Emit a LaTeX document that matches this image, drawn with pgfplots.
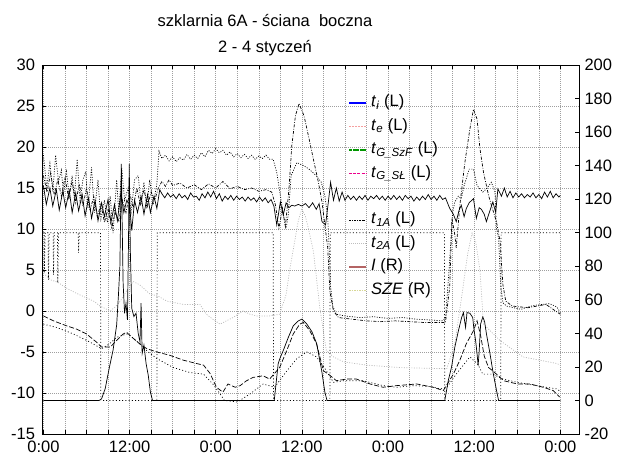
\documentclass[border=0pt]{standalone}
\usepackage{fontspec}
\setmainfont{Liberation Sans}
\usepackage{pgfplots}
\pgfplotsset{compat=1.18}
\definecolor{legpink}{RGB}{245,160,160}
\definecolor{legGr}{RGB}{0,150,0}
\definecolor{leggrey}{RGB}{190,190,190}
\definecolor{legbrown}{RGB}{180,100,100}
\definecolor{legkhaki}{RGB}{215,215,150}
\begin{document}
\begin{tikzpicture}
\pgfplotsset{
  common/.style={
    at={(0pt,0pt)}, anchor=south west,
    scale only axis, width=537pt, height=369pt,
    xmin=-0.2, xmax=74.6,
    /pgf/number format/assume math mode=true,
    ticklabel style={font=\fontsize{16.5}{18}\selectfont},
    tick align=inside, major tick length=4pt, minor tick length=4pt,
    tick style={black, line width=0.5pt},
    axis line style={line width=0.8pt},
  },
  mygrid/.style={gray!75, dash pattern=on 0.8pt off 1.2pt, line width=0.5pt},
}
\begin{axis}[common,
  ymin=-15, ymax=30, ytick={-15,-10,...,30},
  xtick={0,12,...,72}, xticklabels={0:00,12:00,0:00,12:00,0:00,12:00,0:00},
  minor xtick={3,6,...,72},
  xtick pos=both, xticklabel pos=left, ytick pos=left,
  grid=both, major grid style={mygrid}, minor grid style={mygrid},
  xticklabel style={yshift=-3pt},
  yticklabel style={xshift=-3.5pt},
]
% t_i
\addplot[black, line width=0.7pt] coordinates {
(0,15.3)(0.4,13.0)(0.9,15.0)(1.3,12.8)(1.8,14.8)(2.2,12.3)(2.7,14.6)(3.1,12.6)(3.6,14.7)(4.0,12.0)(4.5,14.4)(4.9,12.2)(5.4,14.2)(5.8,11.6)(6.3,13.8)(6.7,11.3)(7.2,13.5)(7.6,11.0)(8.1,13.2)(8.5,11.5)(9.0,13.6)(9.4,10.8)(9.9,13.0)(10.3,11.0)(10.8,14.5)(11.2,12.0)(11.6,13.5)(12.0,13.0)(12.3,9.8)(12.7,13.5)(13.1,12.0)(13.6,14.0)(14.0,11.8)(14.5,14.2)(14.9,12.0)(15.4,14.0)(15.8,12.5)(16.2,14.8)
(16.5,14.3)(16.9,13.8)(17.3,14.4)(17.7,13.9)(18.1,14.2)(18.5,13.7)(18.9,14.3)(19.3,13.8)(19.7,14.1)(20.1,13.6)(20.5,14.4)(20.9,13.9)(21.3,14.0)(21.7,13.5)(22.1,14.3)(22.5,13.8)(22.9,14.5)(23.3,13.9)(23.7,14.6)(24.1,13.7)(24.5,14.3)(24.9,13.4)(25.3,14.0)(25.7,13.6)(26.1,14.1)(26.5,13.5)(26.9,14.0)(27.3,13.6)(27.7,13.9)(28.1,13.4)(28.5,13.9)(28.9,13.5)(29.3,13.8)(29.7,13.3)(30.1,13.9)(30.5,13.4)(30.9,13.8)(31.3,13.2)(31.7,13.6)
(32.1,12.8)(32.5,10.5)(33.0,13.3)(33.4,11.7)(33.8,13.2)(34.2,12.6)(34.6,12.9)(35.0,12.8)(35.5,13.0)(36.0,12.8)(36.5,13.1)(37.0,12.6)(37.5,13.2)(38.0,12.4)(38.4,13.1)(38.8,10.9)(39.3,10.5)(39.7,13.4)(40.0,15.7)(40.4,13.5)(40.8,15.0)(41.2,13.4)(41.6,14.5)
(42.0,13.5)(42.4,14.1)(42.8,13.6)(43.2,14.0)(43.6,13.5)(44.0,14.0)(44.4,13.6)(44.8,14.1)(45.2,13.5)(45.6,14.0)(46.0,13.7)(46.4,14.1)(46.8,13.6)(47.2,14.0)(47.6,13.5)(48.0,14.0)(48.4,13.6)(48.8,14.1)(49.2,13.6)(49.6,14.0)(50.0,13.5)(50.4,14.1)(50.8,13.7)(51.2,14.0)(51.6,13.4)(52.0,13.9)(52.4,13.5)(52.8,14.0)(53.2,13.6)(53.6,14.2)(54.0,13.6)(54.4,14.0)(54.8,13.5)(55.2,14.1)(55.6,13.6)
(56.0,13.8)(56.6,12.5)(57.1,11.8)(57.5,10.9)(57.9,12.3)(58.2,12.9)(58.6,11.5)(58.9,12.5)(59.3,13.2)(59.9,13.7)(60.3,11.3)(60.7,12.6)(61.0,12.4)(61.4,11.8)(61.7,10.9)(62.1,12.0)(62.6,13.3)(63.0,12.0)(63.3,14.9)(63.8,14.0)(64.2,15.0)(64.6,13.9)
(65.0,14.6)(65.4,13.8)(65.8,14.4)(66.2,13.9)(66.6,14.3)(67.0,13.8)(67.4,14.2)(67.8,13.9)(68.2,14.4)(68.6,13.8)(69.0,14.2)(69.4,13.7)(69.8,14.5)(70.2,13.9)(70.6,14.6)(71.0,13.8)(71.4,14.3)(71.8,13.9)(72.0,14.1)
};
% t_G_SzF (upper dotted)
\addplot[black, line width=0.7pt, dash pattern=on 1pt off 1.5pt] coordinates {
(0,19.0)(0.45,15.0)(0.9,18.0)(1.3,14.6)(1.7,19.0)(2.1,15.8)(2.5,17.2)(2.8,14.2)(3.2,17.0)(3.6,14.0)(4.0,16.5)(4.3,13.8)(4.7,18.5)(5.1,13.5)(5.5,16.0)(5.9,17.0)(6.2,12.5)(6.7,17.5)(7.1,12.0)(7.6,16.0)(8.0,11.2)(8.5,13.5)(8.9,10.8)(9.3,14.0)(9.7,9.5)(10.2,16.0)(10.5,12.0)(10.9,17.5)(11.3,13.5)(11.8,15.0)(12.2,12.0)(12.7,16.0)(13.2,16.5)(13.6,13.0)(14.0,15.7)(14.4,12.5)(14.8,16.0)(15.3,13.0)(15.8,15.5)(16.1,19.5)
(16.5,18.6)(17.0,19.0)(17.5,18.3)(18.0,18.8)(18.5,18.2)(19.0,18.7)(19.5,18.4)(20.0,19.1)(20.5,18.5)(21.0,19.0)(21.5,18.6)(22.0,19.3)(22.5,18.8)(23.0,19.6)(23.5,19.2)(24.0,19.8)(24.5,19.3)(25.0,19.6)(25.5,19.0)(26.0,19.4)(26.5,18.8)(27.0,19.2)(27.5,18.7)(28.0,19.1)(28.5,18.6)(29.0,19.0)(29.5,18.5)(30.0,18.9)(30.5,18.6)(31.0,19.0)(31.5,18.5)(32.0,18.5)
(32.5,16.9)(33.0,14.1)(33.5,11.3)(33.8,10.1)(34.1,11.7)(34.5,16.5)(35.3,18.1)(36.3,17.7)(37.0,17.3)(38.0,16.5)(38.7,15.7)(39.2,14.1)(39.6,11.3)(39.8,7.7)(40.0,3.0)(40.3,0.6)(40.8,-0.4)(42,-0.6)(44,-0.8)(46,-0.7)(48,-0.9)(50,-0.8)(52,-1.0)(54,-1.1)(55.5,-1.2)(56.0,-0.9)
(56.5,5.0)(57.0,12.0)(57.3,13.3)(57.8,14.0)(58.2,13.7)(58.6,15.3)(59.3,17.3)(59.9,17.3)(60.4,15.3)(60.8,14.9)(61.2,14.5)(61.7,14.9)(62.4,15.7)(62.9,14.5)(63.1,10.1)(63.4,8.9)(63.7,3.0)(64.0,1.0)(64.5,0.6)(65.5,0.4)(66.5,0.2)(67.5,0.5)(68.5,0.7)(69.5,0.8)(70.5,0.9)(71.5,0.5)(72,-0.2)
};
% t_1A (dash-dot)
\addplot[black, line width=0.7pt, dash pattern=on 3pt off 1.5pt on 0.8pt off 1.5pt] coordinates {
(0,16.5)(0.5,14.5)(1.0,16.8)(1.5,14.2)(2.0,16.0)(2.5,14.0)(3.0,16.3)(3.5,13.8)(4.0,15.8)(4.5,13.2)(5.0,15.5)(5.5,12.8)(6.0,15.0)(6.5,12.2)(7.0,14.0)(7.5,11.5)(8.0,13.0)(8.5,10.8)(9.0,12.5)(9.5,10.2)(10.0,12.0)(10.5,11.0)(11.0,13.5)(11.5,12.0)(12.0,14.5)(12.5,12.5)(13.0,15.0)(13.5,13.0)(14.0,14.8)(14.5,12.8)(15.0,14.5)(15.5,13.5)(16.0,15.0)
(16.5,15.8)(17,15.2)(17.5,16.0)(18,15.3)(19,15.6)(20,15.0)(21,15.4)(22,14.8)(23,15.5)(24,15.0)(25,15.8)(26,14.9)(27,15.2)(28,14.8)(29,15.0)(30,14.6)(31,14.8)(31.8,14.5)
(32.3,13.0)(32.8,10.1)(33.3,12.5)(33.7,10.3)(34.2,14.9)(34.6,20.2)(35.1,23.8)(35.6,25.3)(36.3,23.8)(37.0,21.0)(37.7,18.1)(38.3,15.7)(38.8,13.3)(39.2,10.5)(39.6,7.7)(39.9,2.4)(40.4,0.0)(41.1,-0.8)(43,-1.0)(45,-1.2)(47,-1.3)(49,-1.2)(51,-1.3)(53,-1.4)(55,-1.4)(56.0,-1.4)
(56.6,3.0)(56.9,11.3)(57.3,9.3)(57.5,7.7)(58.0,12.9)(58.7,18.1)(59.4,22.2)(59.9,24.6)(60.4,23.4)(60.8,19.8)(61.3,16.9)(62.0,14.1)(62.4,12.9)(63.1,10.9)(63.6,8.5)(64.0,3.2)(64.4,1.2)(65.3,0.6)(67.5,0.4)(70,0.8)(72,-0.4)
};
% t_2A (grey dotted)
\addplot[gray!55, line width=0.7pt, dash pattern=on 1pt off 1.5pt] coordinates {
(0,4.6)(1.0,3.8)(2.0,3.5)(3.2,2.8)(4.5,2.2)(6.0,1.6)(7.0,1.2)(7.9,0.6)(9.3,0.0)(10.0,0.5)(10.7,1.2)(11.6,2.5)(12.5,3.6)(13.4,3.2)(14.8,2.1)(16.0,1.8)(17.2,1.2)(19.5,0.8)(21.8,0.8)(22.7,-0.4)(23.6,-1.0)(24.6,-1.6)(25.5,-1.2)(26.4,-0.8)(27.8,0.0)(28.8,-0.4)(29.7,-0.6)(31.5,-0.6)(32.9,-0.4)
(33.8,2.0)(34.3,5.0)(34.8,7.5)(35.5,11.0)(36.0,12.5)(36.5,11.5)(36.9,10.1)(37.6,7.3)(38.5,0.4)(39.4,-4.8)(40.4,-5.6)(41.8,-6.2)(45.0,-6.6)(49.7,-6.9)(54.3,-7.0)(56.2,-7.0)
(57.3,-4.0)(58.3,2.0)(59.1,7.0)(59.7,9.5)(60.2,8.5)(60.8,5.0)(61.3,-1.6)(63.6,-3.6)(66.8,-5.6)(71.5,-6.4)(72,-6.6)
};
% t_G_SL (long dashed)
\addplot[black, line width=0.7pt, dash pattern=on 5pt off 2pt] coordinates {
(0,-0.6)(1.4,-1.2)(3.2,-1.8)(4.6,-2.2)(6.0,-2.8)(7.4,-3.8)(8.1,-4.4)(9.3,-4.4)(10.2,-3.6)(11.1,-2.8)(11.6,-2.6)(12.2,-3.1)(13.4,-4.0)(14.4,-4.6)(15.8,-5.0)(17.6,-5.4)(19.5,-6.0)(21.3,-6.4)(22.3,-6.6)(23.2,-7.6)(24.1,-9.3)(25.0,-9.9)(25.7,-8.9)(26.7,-9.3)(27.4,-9.1)(28.3,-8.5)(29.2,-8.1)(30.6,-7.9)(31.5,-8.3)(32.2,-7.6)
(32.9,-6.9)(33.9,-4.8)(34.8,-2.8)(35.7,-1.6)(36.2,-1.4)(37.1,-2.4)(38.05,-4.0)(39.0,-7.3)(39.7,-7.7)(40.8,-8.5)(42.2,-8.3)(43.6,-8.3)(45.5,-8.9)(47.3,-9.3)(49.2,-9.1)(52.0,-8.9)(54.3,-9.3)(55.7,-9.7)
(57.1,-7.7)(58.0,-6.0)(58.9,-4.0)(59.9,-2.4)(60.4,-1.2)(60.9,-3.0)(61.4,-5.5)(62.0,-6.9)(62.6,-7.3)(64.1,-8.5)(66.0,-8.9)(67.8,-8.9)(69.6,-9.3)(71.0,-9.7)(71.9,-10.5)
};
% t_e (dotted)
\addplot[black, line width=0.7pt, dash pattern=on 1pt off 2.2pt] coordinates {
(0,-1.6)(1.8,-2.0)(4.2,-2.8)(6.5,-3.8)(8.1,-4.6)(9.2,-4.0)(10.2,-3.2)(11.6,-2.8)(12.5,-3.3)(13.4,-4.0)(14.6,-5.0)(15.8,-5.8)(18.1,-6.9)(20.4,-7.5)(22.3,-7.7)(23.6,-8.9)(24.6,-10.1)(25.2,-10.9)(27.0,-11.1)(28.8,-10.1)(30.6,-8.9)(32.2,-9.3)
(33.9,-7.3)(35.3,-5.8)(36.7,-5.0)(38.05,-5.6)(39.2,-7.0)(40.4,-8.7)(41.8,-8.5)(44.5,-8.5)(47.3,-9.1)(49.2,-9.3)(51.6,-9.1)(53.9,-9.2)(55.3,-9.5)(56.2,-9.3)
(57.5,-7.7)(59.4,-5.6)(60.5,-6.5)(61.2,-7.7)(62.6,-7.7)(64,-8.3)(66,-8.7)(68,-9.0)(70,-9.3)(71.5,-9.5)(72,-9.8)
};
\end{axis}
\begin{axis}[common,
  ymin=-20, ymax=200, ytick={-20,0,...,200},
  axis y line*=right, axis x line=none,
  yticklabel style={xshift=2pt},
  legend cell align=left,
  legend image code/.code={\draw[#1] (0pt,0pt) -- (17pt,0pt);},
  legend style={draw=none, fill=none, at={(0.570,0.9287)}, anchor=north west,
    inner sep=0pt, outer sep=0pt, row sep=0pt,
    font=\fontsize{16.5}{18}\selectfont,
    nodes={inner sep=0pt, text height=15.5pt, text depth=7.9pt},
    /tikz/every odd column/.append style={column sep=4pt}},
]
% I (R)
\addplot[black, line width=0.7pt, forget plot] coordinates {
(0,0)(7.75,0)(8.1,1)(8.6,7)(9.2,20)(9.7,30)(10.2,45)(10.45,63)(10.65,80)(10.85,141)(10.95,110)(11.1,70)(11.3,52)(11.5,58)(11.7,48)(11.85,95)(11.95,141)(12.1,90)(12.3,55)(12.6,50)(12.9,52)(13.2,40)(13.45,35)(13.6,58)(13.75,28)(14.0,33)(14.3,22)(14.6,15)(14.9,5)(15.2,0)
(32.15,0)(32.7,22)(33.0,25.7)(33.4,29.7)(34.1,37.5)(34.8,44.5)(35.5,47.4)(36.0,48.5)(36.7,45.5)(37.4,41)(38.05,34)(38.75,18)(39.2,5)(39.5,0)
(55.9,0)(56.4,12)(56.85,20)(57.3,31.7)(57.8,41.5)(58.25,49.4)(58.5,52.4)(58.8,43.5)(59.0,52.4)(59.4,52)(59.8,49.4)(59.95,43)(60.2,35.6)(60.4,27.9)(60.55,20.8)(60.7,29.7)(60.9,45.7)(61.2,49.8)(61.45,47)(61.7,39.9)(62.2,27.9)(62.65,16.2)(63.1,6.2)(63.4,0)(72,0)
};
% SZE (R)
\addplot[black, line width=0.7pt, dash pattern=on 1pt off 2.2pt, forget plot] coordinates {
(0,100)(0.1,100)(0.12,76)(0.25,100)(0.65,100)(0.7,72)(0.8,100)(1.35,100)(1.4,75)(1.5,100)(1.95,100)(2.0,70)(2.1,100)(4.85,100)(4.9,88)(5.0,100)(7.95,100)(8.0,0)(15.8,0)(15.85,100)(32.0,100)(32.05,0)(39.9,0)(39.95,100)(55.85,100)(55.9,0)(63.7,0)(63.75,100)(72,100)
};
\addlegendimage{blue, line width=1.2pt}
\addlegendentry{\textit{t}\textsubscript{\textit{i}} (L)}
\addlegendimage{legpink, line width=1.2pt, dash pattern=on 2pt off 1pt}
\addlegendentry{\textit{t}\textsubscript{\textit{e}} (L)}
\addlegendimage{draw=legGr, line width=1.4pt, dash pattern=on 3pt off 0.6pt}
\addlegendentry{\textit{t}\textsubscript{\textit{G\_SzF}} (L)}
\addlegendimage{draw=magenta, line width=1.3pt, dash pattern=on 3pt off 1.2pt}
\addlegendentry{\textit{t}\textsubscript{\textit{G\_SŁ}} (L)}
\addlegendimage{empty legend}
\addlegendentry{}
\addlegendimage{black, line width=0.8pt, dash pattern=on 2pt off 1pt on 0.8pt off 1pt}
\addlegendentry{\textit{t}\textsubscript{\textit{1A}} (L)}
\addlegendimage{leggrey, line width=1pt, dash pattern=on 1pt off 1pt}
\addlegendentry{\textit{t}\textsubscript{\textit{2A}} (L)}
\addlegendimage{legbrown, line width=2pt}
\addlegendentry{\textit{I} (R)}
\addlegendimage{legkhaki, line width=1pt, dash pattern=on 1.5pt off 1pt}
\addlegendentry{\textit{SZE} (R)}
\end{axis}
\node[anchor=base, font=\fontsize{16.5}{18}\selectfont] at (223pt,407pt) {szklarnia 6A - ściana\ \ boczna};
\node[anchor=base, font=\fontsize{16.5}{18}\selectfont] at (223pt,381pt) {2 - 4 styczeń};
\pgfresetboundingbox
\path[use as bounding box] (-42pt,-21pt) rectangle (576pt,434pt);
\end{tikzpicture}
\end{document}
